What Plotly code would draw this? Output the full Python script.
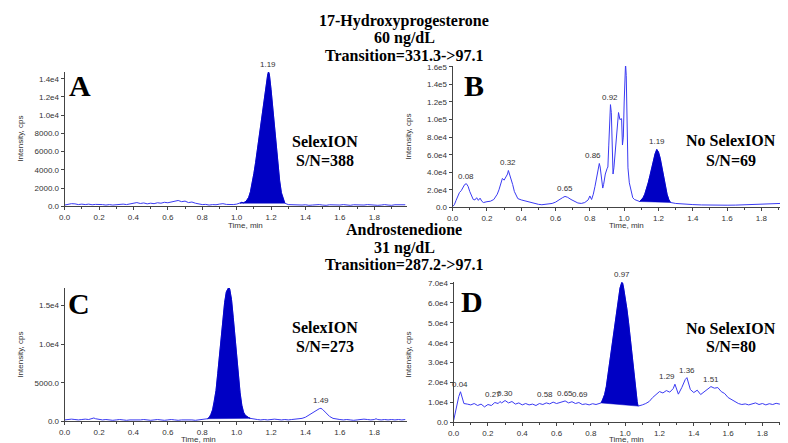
import plotly.graph_objects as go

# ---------------- DATA ----------------
# Panel A: 17-OHP, SelexION
tA = [0.00,0.02,0.04,0.06,0.08,0.10,0.12,0.14,0.16,0.18,0.20,0.22,0.24,0.26,0.28,0.30,0.32,0.34,0.36,0.38,
      0.40,0.42,0.44,0.46,0.48,0.50,0.52,0.54,0.56,0.58,0.60,0.62,0.64,0.66,0.68,0.70,0.72,0.74,0.76,0.78,
      0.80,0.82,0.84,0.86,0.88,0.90,0.92,0.94,0.96,0.98,1.00,
      1.02,1.03,1.04,1.05,1.06,1.07,1.08,1.09,1.10,1.11,1.12,1.13,1.14,1.15,1.16,1.17,1.18,1.185,1.19,
      1.20,1.21,1.22,1.23,1.24,1.25,1.26,1.27,1.28,
      1.30,1.32,1.34,1.36,1.38,1.40,1.42,1.44,1.46,1.48,1.50,1.52,1.54,1.56,1.58,1.60,1.62,1.64,1.66,1.68,
      1.70,1.72,1.74,1.76,1.78,1.80,1.82,1.84,1.86,1.88,1.90,1.92,1.94,1.96,1.98]
yA = [150,250,300,280,200,250,200,250,180,220,250,200,150,200,150,200,180,250,200,300,
      350,420,320,380,280,350,300,400,350,450,400,500,550,650,520,580,420,480,350,250,
      200,220,150,200,180,250,300,220,180,200,250,
      350,450,400,500,700,1000,1600,2500,3600,4800,6200,7800,9300,10800,12200,13500,14400,14750,14500,
      12800,10800,8800,6500,4500,2800,1500,800,350,
      200,180,150,200,150,180,120,150,180,200,150,120,180,150,100,150,200,150,120,180,
      150,100,150,200,150,180,120,150,200,150,120,180,200,150,180]

# Panel B: 17-OHP, no SelexION
tB = [0.00,0.01,0.02,0.03,0.04,0.05,0.06,0.07,0.08,0.09,0.10,0.11,0.12,0.13,0.14,0.15,0.16,0.17,0.18,0.20,
      0.22,0.24,0.26,0.27,0.28,0.29,0.30,0.31,0.32,0.325,0.33,0.34,0.35,0.36,0.37,0.38,0.40,0.42,0.44,0.46,
      0.48,0.50,0.52,0.54,0.56,0.58,0.60,0.62,0.64,0.655,0.67,0.69,0.71,0.73,0.75,0.77,0.79,0.80,0.81,0.82,
      0.83,0.84,0.85,0.855,0.86,0.87,0.875,0.88,0.89,0.90,0.905,0.91,0.915,0.92,0.925,0.93,0.935,0.94,0.95,0.96,
      0.967,0.975,0.985,0.99,0.995,1.00,1.008,1.012,1.018,1.022,1.03,1.04,1.05,1.06,1.07,1.08,
      1.09,1.10,1.11,1.12,1.13,1.14,1.15,1.16,1.17,1.18,1.19,1.20,1.21,1.22,1.23,1.24,1.25,1.26,1.27,
      1.30,1.35,1.40,1.45,1.50,1.55,1.60,1.65,1.70,1.75,1.80,1.85,1.90,1.94,1.96,1.98]
yB = [1000,3000,8000,13000,17000,19000,22000,26000,27000,24000,18000,14000,9000,8500,11000,8000,10500,7000,5500,6500,
      7000,9000,15000,20000,27000,33000,31000,35000,38000,42000,39000,33000,26000,18000,13000,10000,8500,7500,6500,5000,
      4200,3500,3000,3300,4000,4500,6000,9000,11000,12500,11500,9000,6500,5000,4500,5500,8500,13000,9000,15000,
      24000,33000,45000,50000,46000,28000,22000,26000,38000,44000,46000,70000,112000,117000,108000,70000,38000,45000,72000,100000,
      108000,100000,101000,71000,80000,120000,164000,150000,90000,45000,28000,18000,11000,9000,8000,7000,
      6700,8500,11000,15000,21000,28000,36000,45000,54000,61000,66000,63000,56000,46000,35000,24000,15000,9000,5600,
      4500,3500,3200,2800,2500,2400,2500,2600,3000,3200,3500,3800,4200,5000,4500,5000]

# Panel C: Androstenedione, SelexION
tC = [0.00,0.02,0.04,0.06,0.08,0.10,0.12,0.14,0.16,0.17,0.18,0.20,0.22,0.24,0.26,0.28,0.30,0.32,0.34,0.36,
      0.38,0.40,0.42,0.44,0.46,0.48,0.50,0.52,0.54,0.56,0.58,0.60,0.62,0.64,0.66,0.68,0.70,0.72,0.74,0.76,
      0.78,0.80,0.82,0.83,0.84,0.85,0.86,0.87,0.88,0.89,0.90,0.91,0.92,0.93,0.94,0.95,0.955,0.96,0.97,0.98,
      0.99,1.00,1.01,1.02,1.03,1.04,1.05,1.06,1.07,1.08,1.10,1.12,1.14,1.16,1.18,1.20,1.22,1.24,1.26,1.28,
      1.30,1.32,1.34,1.36,1.38,1.40,1.42,1.44,1.46,1.48,1.49,1.50,1.52,1.54,1.56,1.58,1.60,1.62,1.64,1.66,
      1.68,1.70,1.72,1.74,1.76,1.78,1.80,1.81,1.82,1.84,1.86,1.88,1.90,1.92,1.94,1.96,1.98]
yC = [200,250,300,250,200,250,300,250,350,450,350,250,200,250,200,150,200,250,200,150,
      200,200,150,200,250,200,150,200,250,200,150,200,250,200,150,200,200,250,200,150,
      200,250,300,350,500,900,1500,2600,4000,6200,8700,11200,13500,15400,16800,17300,17400,17100,15800,13500,
      11000,8300,5800,3700,2100,1200,800,600,500,400,300,250,200,250,200,250,300,250,200,250,
      200,250,300,300,400,550,850,1150,1400,1650,1700,1550,1100,650,400,300,250,200,250,200,
      150,200,250,300,250,200,250,350,250,200,250,200,250,200,250,200,250]

# Panel D: Androstenedione, no SelexION
tD = [0.00,0.01,0.02,0.03,0.04,0.05,0.06,0.08,0.10,0.12,0.14,0.16,0.18,0.20,0.22,0.24,0.26,0.27,0.28,0.30,
      0.32,0.34,0.36,0.38,0.40,0.42,0.44,0.46,0.48,0.50,0.52,0.54,0.56,0.58,0.60,0.62,0.65,0.67,0.69,0.71,
      0.73,0.75,0.77,0.79,0.81,0.83,0.85,0.86,0.87,0.88,0.89,0.90,0.91,0.92,0.93,0.94,0.95,0.96,0.97,0.98,
      0.985,0.99,1.00,1.01,1.02,1.03,1.04,1.05,1.06,1.07,1.075,1.09,1.10,1.12,1.14,1.16,1.18,1.20,1.22,1.24,
      1.26,1.28,1.29,1.30,1.31,1.33,1.35,1.36,1.37,1.38,1.40,1.42,1.44,1.46,1.48,1.50,1.52,1.54,1.56,1.58,
      1.60,1.62,1.64,1.66,1.68,1.70,1.72,1.74,1.76,1.78,1.80,1.82,1.84,1.86,1.88,1.90,1.92,1.94,1.96,1.98]
yD = [1000,5000,9500,13000,15400,12000,9500,9200,8800,9500,8500,9200,7800,9000,8500,10000,9500,10500,9800,11000,
      9800,10500,9200,9800,8800,9500,8800,9200,8500,9500,9000,9800,9300,10200,9500,10000,10800,9800,10400,9500,
      10000,9000,9300,8800,9400,9000,9600,9800,11500,14000,18000,24000,31000,38000,44000,50000,56000,62000,67500,70300,
      70000,68000,63000,57000,50000,42000,33000,24000,16000,10500,8200,8400,8800,9500,10500,12500,14000,15500,14800,16000,
      15200,17000,19200,16500,14200,17500,21500,22500,19000,16500,15000,16200,14000,15200,16800,18000,17200,17500,15500,14500,
      12500,11500,10500,9500,9000,9300,8800,9200,9800,9000,9500,8800,9400,9000,9600,9200,8700,9500,8600,9600]

# integrated (filled) peak windows, minutes
fillA = (1.02, 1.28)
fillB = (1.09, 1.27)
fillC = (0.83, 1.08)
fillD = (0.86, 1.075)

# peak labels (retention time text, label anchor time)
labelsA = [("1.19", 1.185)]
labelsB = [("0.08", 0.08), ("0.32", 0.325), ("0.65", 0.655), ("0.86", 0.855), ("0.92", 0.92), ("1.01", 1.008), ("1.19", 1.19)]
labelsC = [("0.96", 0.955), ("1.49", 1.49)]
labelsD = [("0.04", 0.04), ("0.27", 0.27), ("0.30", 0.30), ("0.58", 0.58), ("0.65", 0.65), ("0.69", 0.69),
           ("0.97", 0.98), ("1.29", 1.29), ("1.36", 1.36), ("1.51", 1.50)]

# y tick labels
yticksA = [0, 2000, 4000, 6000, 8000, 10000, 12000, 14000]
yticktextA = ["0.0", "2000.0", "4000.0", "6000.0", "8000.0", "1.0e4", "1.2e4", "1.4e4"]
yticksB = [0, 20000, 40000, 60000, 80000, 100000, 120000, 140000, 160000]
yticktextB = ["0.0", "2.0e4", "4.0e4", "6.0e4", "8.0e4", "1.0e5", "1.2e5", "1.4e5", "1.6e5"]
yticksC = [0, 5000, 10000, 15000]
yticktextC = ["0.0", "5000.0", "1.0e4", "1.5e4"]
yticksD = [0, 10000, 20000, 30000, 40000, 50000, 60000, 70000]
yticktextD = ["0.0", "1.0e4", "2.0e4", "3.0e4", "4.0e4", "5.0e4", "6.0e4", "7.0e4"]

# ---------------- FIGURE ----------------
W, H = 788, 443
def px(x): return x / W
def py(y): return 1 - y / H

LINE = "#3a3af2"
FILL = "#0000c4"
TXT = "#333333"

fig = go.Figure()

panels = [
    ("A", tA, yA, fillA, labelsA, "x", "y"),
    ("B", tB, yB, fillB, labelsB, "x2", "y2"),
    ("C", tC, yC, fillC, labelsC, "x3", "y3"),
    ("D", tD, yD, fillD, labelsD, "x4", "y4"),
]

annotations = []
label_opts = {"0.86": ("right", 4), "0.27": ("right", 3), "0.58": ("right", 2), "0.69": ("left", -2),
              "1.29": ("right", 2)}

for name, t, y, fw, labels, xa, ya in panels:
    fig.add_trace(go.Scatter(x=t, y=y, mode="lines", line=dict(color=LINE, width=1),
                             xaxis=xa, yaxis=ya, hoverinfo="skip", showlegend=False))
    idx = [i for i, v in enumerate(t) if fw[0] <= v <= fw[1]]
    i0, i1 = idx[0], idx[-1]
    fig.add_trace(go.Scatter(x=[t[i0], t[i1]], y=[y[i0], y[i1]], mode="lines",
                             line=dict(color=FILL, width=0.5), xaxis=xa, yaxis=ya,
                             hoverinfo="skip", showlegend=False))
    fig.add_trace(go.Scatter(x=[t[i] for i in idx], y=[y[i] for i in idx], mode="lines",
                             fill="tonexty", fillcolor=FILL, line=dict(color=FILL, width=0.8),
                             xaxis=xa, yaxis=ya, hoverinfo="skip", showlegend=False))
    for txt, tt in labels:
        j = min(range(len(t)), key=lambda k: abs(t[k] - tt))
        anchor, xs = label_opts.get(txt, ("center", 0))
        annotations.append(dict(x=t[j], y=y[j], xref=xa, yref=ya, text=txt, showarrow=False,
                                xanchor=anchor, yanchor="bottom", yshift=1, xshift=xs,
                                font=dict(family="Arial", size=8, color=TXT)))

def xaxis_style(dom, anchor):
    return dict(domain=dom, anchor=anchor, range=[0, 1.99], tick0=0, dtick=0.2, tickformat=".1f",
                showline=True, linecolor="#444", linewidth=1, ticks="outside", ticklen=3,
                tickcolor="#444", tickfont=dict(family="Arial", size=8, color=TXT),
                showgrid=False, zeroline=False,
                minor=dict(dtick=0.1, ticklen=2, tickcolor="#444", ticks="outside"))

def yaxis_style(dom, anchor, rng, tv, tt):
    return dict(domain=dom, anchor=anchor, range=rng, tickvals=tv, ticktext=tt,
                showline=True, linecolor="#444", linewidth=1, ticks="outside", ticklen=3,
                tickcolor="#444", tickfont=dict(family="Arial", size=8, color=TXT),
                showgrid=False, zeroline=False)

fig.update_layout(
    width=W, height=H, margin=dict(l=0, r=0, t=0, b=0),
    paper_bgcolor="white", plot_bgcolor="white", showlegend=False,
    xaxis=xaxis_style([px(51), px(396)], "y"),
    yaxis=yaxis_style([py(199), py(62)], "x", [0, 14750], yticksA, yticktextA),
    xaxis2=xaxis_style([px(442), px(786)], "y2"),
    yaxis2=yaxis_style([py(200), py(56)], "x2", [0, 161000], yticksB, yticktextB),
    xaxis3=xaxis_style([px(51), px(396)], "y3"),
    yaxis3=yaxis_style([py(418), py(282)], "x3", [0, 17300], yticksC, yticktextC),
    xaxis4=xaxis_style([px(443), px(787)], "y4"),
    yaxis4=yaxis_style([py(419), py(276)], "x4", [0, 70500], yticksD, yticktextD),
)

SERIF = "Liberation Serif, Times New Roman, serif"
def ptext(x, y, text, size, bold=True, family=SERIF, angle=0, color="black"):
    annotations.append(dict(x=px(x), y=py(y), xref="paper", yref="paper", text=f"<b>{text}</b>" if bold else text,
                            showarrow=False, xanchor="center", yanchor="middle", textangle=angle,
                            font=dict(family=family, size=size, color=color)))

# titles
ptext(393, 10, "17-Hydroxyprogesterone", 16)
ptext(393, 28, "60 ng/dL", 16)
ptext(393, 45, "Transition=331.3-&gt;97.1", 16)
ptext(393, 223, "Androstenedione", 16)
ptext(393, 241, "31 ng/dL", 16)
ptext(393, 258, "Transition=287.2-&gt;97.1", 16)

# panel letters
ptext(67, 76, "A", 30)
ptext(464, 76, "B", 30)
ptext(66, 298, "C", 30)
ptext(462, 296, "D", 30)

# SelexION notes
ptext(313, 133, "SelexION", 16)
ptext(313, 152, "S/N=388", 16)
ptext(723, 132, "No SelexION", 16)
ptext(723, 152, "S/N=69", 16)
ptext(313, 322, "SelexION", 16)
ptext(313, 342, "S/N=273", 16)
ptext(723, 323, "No SelexION", 16)
ptext(723, 342, "S/N=80", 16)

# axis titles
for (xx, yy) in [(233, 218), (617, 218), (186, 436), (617, 436)]:
    ptext(xx, yy, "Time, min", 8, bold=False, family="Arial", color=TXT)
for (xx, yy) in [(7, 130), (398, 128), (7, 350), (398, 350)]:
    ptext(xx, yy, "Intensity, cps", 8, bold=False, family="Arial", angle=-90, color=TXT)

fig.update_layout(annotations=annotations)
fig.write_html("out.html")
